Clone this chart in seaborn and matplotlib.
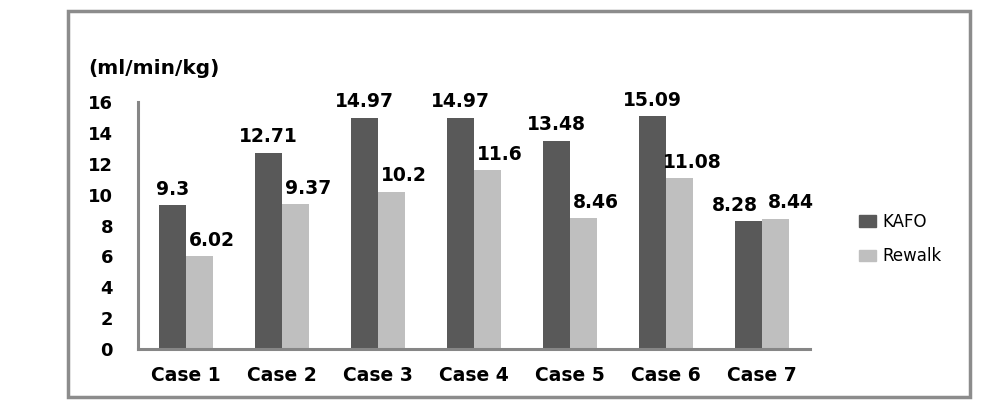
import numpy as np
import pandas as pd
import seaborn as sns
import matplotlib.pyplot as plt
from matplotlib.patches import Rectangle

cases = ['Case 1', 'Case 2', 'Case 3', 'Case 4', 'Case 5', 'Case 6', 'Case 7']
kafo = [9.3, 12.71, 14.97, 14.97, 13.48, 15.09, 8.28]
rewalk = [6.02, 9.37, 10.2, 11.6, 8.46, 11.08, 8.44]
groups = ['KAFO', 'Rewalk']
y_ticks = [0, 2, 4, 6, 8, 10, 12, 14, 16]

sns.set_style('white')
plt.rcParams['font.family'] = ['DejaVu Sans', 'Noto Sans CJK SC']
plt.rcParams['text.color'] = 'black'
plt.rcParams['xtick.color'] = 'black'
plt.rcParams['ytick.color'] = 'black'

df = pd.DataFrame({
    'case': cases * 2,
    'value': kafo + rewalk,
    'group': [groups[0]] * len(cases) + [groups[1]] * len(cases),
})

fig = plt.figure(figsize=(9.94, 4.07), dpi=100)
ax = fig.add_axes([138 / 994, 1 - 349 / 407, (810 - 138) / 994, (349 - 102) / 407])

sns.barplot(data=df, x='case', y='value', hue='group', hue_order=groups,
            palette=['#595959', '#bfbfbf'], width=0.57, gap=0,
            saturation=1, linewidth=0, ax=ax, legend=False)

# value labels; Rewalk ones sit a bit right like in the original
last = len(cases) - 1
for gi, container in enumerate(ax.containers):
    for ci, bar in enumerate(container):
        h = bar.get_height()
        dx = 0 if gi == 0 else 9
        if ci == last:
            dx = -10 if gi == 0 else 11
        ax.annotate(f'{h:g}', (bar.get_x() + bar.get_width() / 2, h),
                    xytext=(dx, 7.5), textcoords='offset points',
                    ha='center', va='baseline', fontsize=13.5,
                    fontweight='bold', color='black')

ax.set(ylim=(0, 16), yticks=y_ticks, xlabel='', ylabel='')
ax.set_xlim(-0.5, len(cases) - 0.5)
ax.tick_params(axis='y', length=0, pad=18, labelsize=13)
ax.tick_params(axis='x', length=0, pad=12, labelsize=13.5)
for lbl in ax.get_xticklabels() + ax.get_yticklabels():
    lbl.set_fontweight('bold')
for side in ['top', 'right']:
    ax.spines[side].set_visible(False)
for side in ['left', 'bottom']:
    ax.spines[side].set_color('#868686')
    ax.spines[side].set_linewidth(2.2)

fig.text(88 / 994, 1 - 68 / 407, '(ml/min/kg)', ha='left', va='center',
         fontsize=14.5, fontweight='bold')

handles = [Rectangle((0, 0), 1, 1, color=c) for c in ['#595959', '#bfbfbf']]
fig.legend(handles, groups, loc='center left',
           bbox_to_anchor=(844 / 994, 1 - 239 / 407), frameon=False,
           fontsize=12, handlelength=1.0, handleheight=0.7,
           handletextpad=0.4, labelspacing=1.0)

# outer grey frame
fig.patches.append(Rectangle((68 / 994, 1 - 397 / 407), (970 - 68) / 994, (397 - 11) / 407,
                             transform=fig.transFigure, fill=False,
                             edgecolor='#8c8c8c', linewidth=2.5))

fig.savefig('out.png', dpi=100)
